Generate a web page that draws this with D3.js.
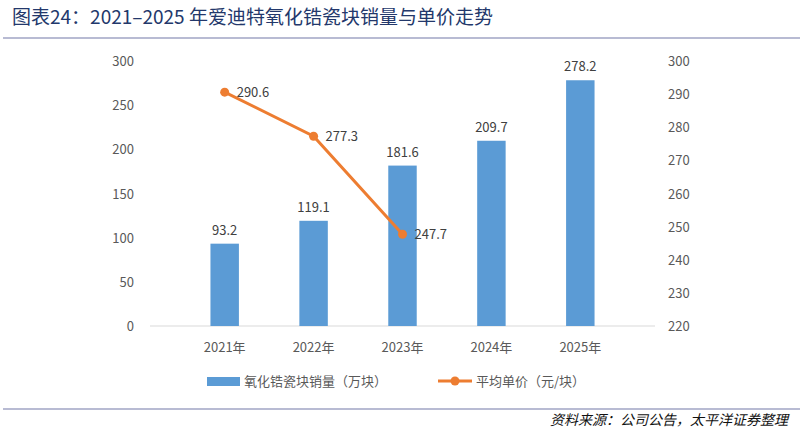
<!DOCTYPE html>
<html><head><meta charset="utf-8">
<script src="https://cdn.jsdelivr.net/npm/d3@7"></script>
<style>body{margin:0;background:#fff}svg{font-family:"Noto Sans CJK SC",sans-serif}</style>
</head><body><svg id="c" width="804" height="435"></svg>
<script>
const years = ["2021年", "2022年", "2023年", "2024年", "2025年"];
const sales = [93.2, 119.1, 181.6, 209.7, 278.2];
const priceYears = ["2021年", "2022年", "2023年"];
const prices = [290.6, 277.3, 247.7];
const leftTicks = [0, 50, 100, 150, 200, 250, 300];
const rightTicks = [220, 230, 240, 250, 260, 270, 280, 290, 300];

const svg = d3.select("#c");
const plotLeft = 150, plotRight = 655, plotTop = 61, plotBottom = 326;

svg.append("text").attr("x", 12).attr("y", 24).attr("font-size", 19)
  .attr("fill", "#23386b").text("图表24：2021–2025 年爱迪特氧化锆瓷块销量与单价走势");
svg.append("rect").attr("x", 3).attr("y", 37).attr("width", 797).attr("height", 2).attr("fill", "#b8bbd3");
svg.append("rect").attr("x", 3).attr("y", 408).attr("width", 797).attr("height", 2).attr("fill", "#b8bbd3");
svg.append("text").attr("x", 788).attr("y", 425).attr("text-anchor", "end").attr("font-size", 14)
  .attr("font-style", "italic").attr("fill", "#111").text("资料来源：公司公告，太平洋证券整理");

const x = d3.scaleBand().domain(years).range([plotLeft, plotRight]).padding(0.68);
const y = d3.scaleLinear().domain([0, 300]).range([plotBottom, plotTop]);
const y2 = d3.scaleLinear().domain([220, 300]).range([plotBottom, plotTop]);

svg.append("g").selectAll("text").data(leftTicks).join("text")
  .attr("x", 134).attr("y", d => y(d) + 5).attr("text-anchor", "end")
  .attr("font-size", 13).attr("fill", "#595959").text(d => d);
svg.append("g").selectAll("text").data(rightTicks).join("text")
  .attr("x", 668).attr("y", d => y2(d) + 5)
  .attr("font-size", 13).attr("fill", "#595959").text(d => d);
svg.append("line").attr("x1", plotLeft).attr("x2", plotRight).attr("y1", plotBottom).attr("y2", plotBottom)
  .attr("stroke", "#d9d9d9");
svg.append("g").selectAll("text").data(years).join("text")
  .attr("x", d => x(d) + x.bandwidth() / 2).attr("y", 352).attr("text-anchor", "middle")
  .attr("font-size", 13).attr("fill", "#595959").text(d => d);

svg.append("g").selectAll("rect").data(sales).join("rect")
  .attr("x", (d, i) => x(years[i])).attr("width", x.bandwidth())
  .attr("y", d => y(d)).attr("height", d => plotBottom - y(d)).attr("fill", "#5b9bd5");
svg.append("g").selectAll("text").data(sales).join("text")
  .attr("x", (d, i) => x(years[i]) + x.bandwidth() / 2).attr("y", d => y(d) - 9)
  .attr("text-anchor", "middle").attr("font-size", 13).attr("fill", "#404040").text(d => d.toFixed(1));

const cx = (d, i) => x(priceYears[i]) + x.bandwidth() / 2;
svg.append("path").datum(prices)
  .attr("d", d3.line().x(cx).y(d => y2(d)))
  .attr("fill", "none").attr("stroke", "#ed7d31").attr("stroke-width", 3);
svg.append("g").selectAll("circle").data(prices).join("circle")
  .attr("cx", cx).attr("cy", d => y2(d)).attr("r", 4.5).attr("fill", "#ed7d31");
svg.append("g").selectAll("text").data(prices).join("text")
  .attr("x", (d, i) => cx(d, i) + 12).attr("y", d => y2(d) + 5)
  .attr("font-size", 13).attr("fill", "#404040").text(d => d.toFixed(1));

const lg = svg.append("g").attr("font-size", 13).attr("fill", "#595959");
lg.append("rect").attr("x", 207).attr("y", 377).attr("width", 33).attr("height", 9).attr("fill", "#5b9bd5");
lg.append("text").attr("x", 244).attr("y", 386).text("氧化锆瓷块销量（万块）");
lg.append("line").attr("x1", 438).attr("x2", 472).attr("y1", 381).attr("y2", 381)
  .attr("stroke", "#ed7d31").attr("stroke-width", 3);
lg.append("circle").attr("cx", 455).attr("cy", 381).attr("r", 4.5).attr("fill", "#ed7d31");
lg.append("text").attr("x", 476).attr("y", 386).text("平均单价（元/块）");
</script></body></html>
